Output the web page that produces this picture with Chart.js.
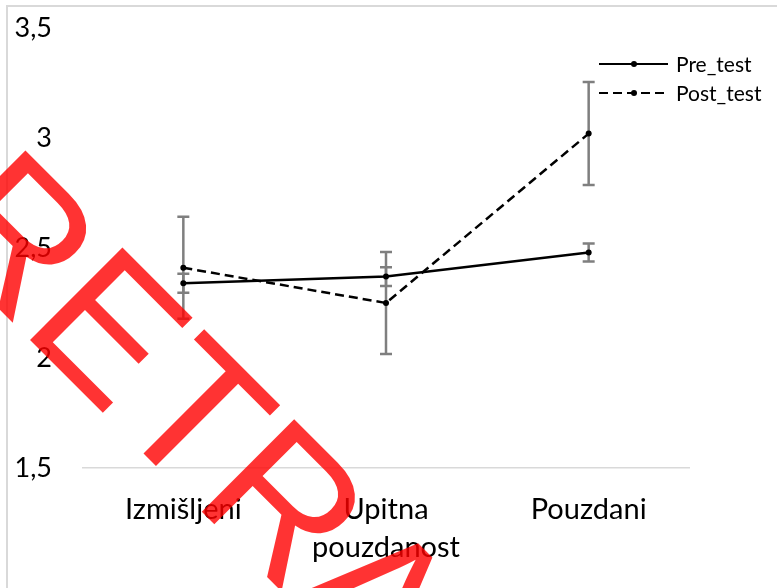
<!DOCTYPE html>
<html>
<head>
<meta charset="utf-8">
<script src="https://cdn.jsdelivr.net/npm/chart.js@4/dist/chart.umd.min.js"></script>
<style>
  html, body { margin: 0; padding: 0; background: #fff; }
  #wrap { position: relative; width: 777px; height: 588px; }
</style>
</head>
<body>
<div id="wrap"><canvas id="c" width="777" height="588"></canvas></div>
<script>
// ---- data ----
const categories = ['Izmišljeni', ['Upitna', 'pouzdanost'], 'Pouzdani'];
const seriesNames = ['Pre_test', 'Post_test'];
const preTest = [2.34, 2.37, 2.48];
const postTest = [2.41, 2.25, 3.02];
const preErr = [0.043, 0.043, 0.041];
const postErr = [0.232, 0.232, 0.234];
const yTicks = [1.5, 2, 2.5, 3, 3.5];
const watermarkText = 'RETRACTED';

const FONT = 'Lato';

const errorBarPlugin = {
  id: 'errorBars',
  beforeDatasetsDraw(chart) {
    const ctx = chart.ctx;
    const xs = chart.scales.x, ys = chart.scales.y;
    const errs = [preErr, postErr];
    ctx.save();
    ctx.strokeStyle = '#7f7f7f';
    ctx.lineWidth = 2.5;
    chart.data.datasets.forEach((ds, di) => {
      ds.data.forEach((v, i) => {
        const x = xs.getPixelForValue(i);
        const yt = ys.getPixelForValue(v + errs[di][i]);
        const yb = ys.getPixelForValue(v - errs[di][i]);
        ctx.beginPath();
        ctx.moveTo(x, yt); ctx.lineTo(x, yb);
        ctx.moveTo(x - 6, yt); ctx.lineTo(x + 6, yt);
        ctx.moveTo(x - 6, yb); ctx.lineTo(x + 6, yb);
        ctx.stroke();
      });
    });
    ctx.restore();
  }
};

const framePlugin = {
  id: 'frame',
  beforeDraw(chart) {
    const ctx = chart.ctx;
    ctx.save();
    ctx.strokeStyle = '#d9d9d9';
    ctx.lineWidth = 2;
    ctx.beginPath();
    ctx.moveTo(7, 588); ctx.lineTo(7, 6); ctx.lineTo(777, 6);
    ctx.stroke();
    ctx.restore();
  }
};

const legendPlugin = {
  id: 'customLegend',
  afterDatasetsDraw(chart) {
    const ctx = chart.ctx;
    ctx.save();
    const rows = [64, 93];
    chart.data.datasets.forEach((ds, i) => {
      const y = rows[i];
      ctx.strokeStyle = '#000';
      ctx.lineWidth = 2;
      ctx.setLineDash(ds.borderDash || []);
      ctx.beginPath();
      ctx.moveTo(599, y); ctx.lineTo(668, y);
      ctx.stroke();
      ctx.setLineDash([]);
      ctx.fillStyle = '#000';
      ctx.beginPath();
      ctx.arc(634, y, 3, 0, Math.PI * 2);
      ctx.fill();
      ctx.font = '21px ' + FONT;
      ctx.textBaseline = 'middle';
      ctx.textAlign = 'left';
      ctx.fillText(ds.label, 676, y + 1);
    });
    ctx.restore();
  }
};

const watermarkPlugin = {
  id: 'watermark',
  afterDraw(chart) {
    const ctx = chart.ctx;
    ctx.save();
    ctx.translate(-78, 232);
    ctx.rotate(Math.PI / 4);
    ctx.font = '190px "Liberation Sans"';
    ctx.fillStyle = 'rgba(255,0,0,0.8)';
    ctx.strokeStyle = 'rgba(255,0,0,0.8)';
    ctx.lineWidth = 1.5;
    ctx.textBaseline = 'alphabetic';
    ctx.textAlign = 'left';
    ctx.fillText(watermarkText, 0, 0);
    ctx.restore();
  }
};

new Chart(document.getElementById('c'), {
  type: 'line',
  data: {
    labels: categories,
    datasets: [
      {
        label: seriesNames[0],
        data: preTest,
        borderColor: '#000',
        backgroundColor: '#000',
        borderWidth: 2.5,
        pointRadius: 3,
        pointBackgroundColor: '#000',
        pointBorderWidth: 0,
        tension: 0,
        fill: false
      },
      {
        label: seriesNames[1],
        data: postTest,
        borderColor: '#000',
        backgroundColor: '#000',
        borderWidth: 2.5,
        borderDash: [9, 5],
        pointRadius: 3,
        pointBackgroundColor: '#000',
        pointBorderWidth: 0,
        tension: 0,
        fill: false
      }
    ]
  },
  options: {
    responsive: false,
    maintainAspectRatio: false,
    animation: false,
    devicePixelRatio: 1,
    layout: { padding: { top: 28, right: 87, bottom: 0, left: 0 } },
    plugins: {
      legend: { display: false },
      tooltip: { enabled: false }
    },
    scales: {
      x: {
        offset: true,
        grid: { display: false, drawTicks: false },
        border: { display: false },
        ticks: {
          color: '#000',
          font: { family: FONT, size: 29, lineHeight: 1.3 },
          padding: 23,
          maxRotation: 0,
          autoSkip: false
        },
        afterFit(scale) { scale.height = 120; scale.paddingLeft = 0; scale.paddingRight = 0; }
      },
      y: {
        min: 1.5,
        max: 3.5,
        afterBuildTicks(scale) { scale.ticks = yTicks.map(v => ({ value: v })); },
        grid: {
          drawTicks: false,
          color: (c) => (c.tick && c.tick.value === 1.5) ? '#d9d9d9' : 'rgba(0,0,0,0)',
          lineWidth: 1.5
        },
        border: { display: false },
        ticks: {
          color: '#000',
          font: { family: FONT, size: 27 },
          padding: 30,
          callback: (v) => String(v).replace('.', ',')
        },
        afterFit(scale) { scale.width = 82; scale.paddingTop = 0; scale.paddingBottom = 0; }
      }
    }
  },
  plugins: [framePlugin, errorBarPlugin, legendPlugin, watermarkPlugin]
});
</script>
</body>
</html>
